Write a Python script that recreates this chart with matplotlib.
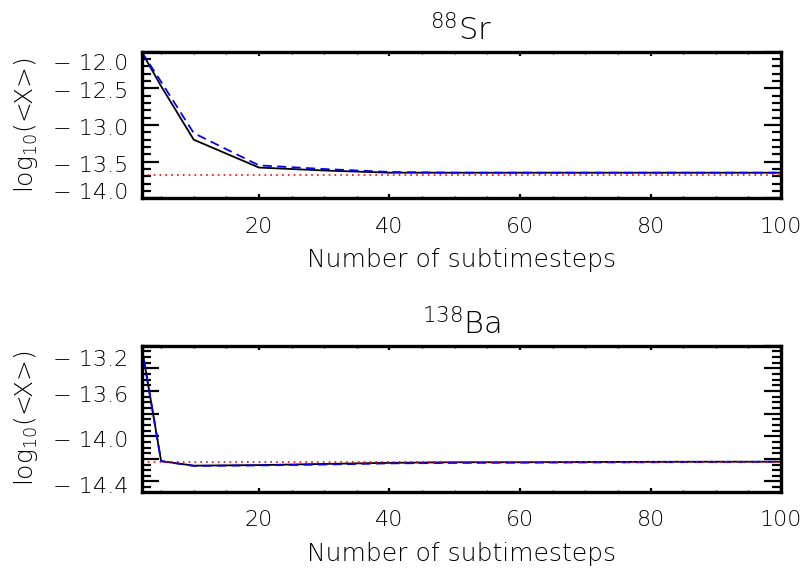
import matplotlib
matplotlib.use("Agg")
import matplotlib.pyplot as plt
from matplotlib.ticker import MultipleLocator, FixedLocator, FixedFormatter
from matplotlib.transforms import ScaledTranslation

# x values (number of subtimesteps)
steps = [2, 5, 10, 20, 30, 40, 50, 60, 70, 80, 90, 100]

# 88Sr
sr_solid = [-12.0, -12.47, -13.20, -13.58, -13.62, -13.65, -13.65, -13.65, -13.65, -13.65, -13.65, -13.65]
sr_dash = [-12.0, -12.41, -13.11, -13.55, -13.60, -13.64, -13.65, -13.65, -13.65, -13.65, -13.65, -13.65]
sr_ref = -13.68

# 138Ba
ba_solid = [-13.2, -14.22, -14.26, -14.255, -14.245, -14.235, -14.23, -14.23, -14.228, -14.226, -14.225, -14.225]
ba_dash = [-13.2, -14.22, -14.262, -14.258, -14.25, -14.24, -14.236, -14.234, -14.232, -14.23, -14.228, -14.225]
ba_ref = -14.225

sr_ticks = [-12.0, -12.5, -13.0, -13.5, -14.0]
sr_labels = ['\u2212 12.0', '\u2212 12.5', '\u2212 13.0', '\u2212 13.5', '\u2212 14.0']
ba_ticks = [-13.2, -13.4, -13.6, -13.8, -14.0, -14.2, -14.4]
ba_labels = ['\u2212 13.2', '', '\u2212 13.6', '', '\u2212 14.0', '', '\u2212 14.4']

plt.rcParams['font.family'] = ['DejaVu Sans']
plt.rcParams['font.weight'] = 'light'
plt.rcParams['axes.labelweight'] = 'light'
plt.rcParams['axes.titleweight'] = 'light'
plt.rcParams['mathtext.fontset'] = 'custom'
plt.rcParams['mathtext.rm'] = 'DejaVu Sans:light'
plt.rcParams['mathtext.it'] = 'DejaVu Sans:light'
plt.rcParams['mathtext.default'] = 'rm'
TICK_FS = 16
LAB_FS = 18

fig = plt.figure(figsize=(8.06, 5.70), dpi=100)
ax1 = fig.add_axes([0.1756, 0.652, 0.7934, 0.2573])
ax2 = fig.add_axes([0.1756, 0.1374, 0.7934, 0.2561])


def style_axis(ax, ylim, major, minor, labels, shifts):
    ax.set_xlim(2, 100)
    ax.set_ylim(*ylim)
    ax.xaxis.set_major_locator(FixedLocator([20, 40, 60, 80, 100]))
    ax.xaxis.set_minor_locator(MultipleLocator(5))
    ax.yaxis.set_major_locator(FixedLocator(major))
    ax.yaxis.set_major_formatter(FixedFormatter(labels))
    ax.yaxis.set_minor_locator(MultipleLocator(minor))
    ax.tick_params(axis='y', which='major', direction='in', length=12, width=1.6,
                   left=True, right=True, labelsize=TICK_FS, pad=9.5)
    ax.tick_params(axis='y', which='minor', direction='in', length=6.5, width=1.6,
                   left=True, right=True)
    ax.tick_params(axis='x', which='major', direction='in', length=3, width=1.6,
                   top=True, bottom=True, labelsize=TICK_FS, pad=13.5)
    ax.tick_params(axis='x', which='minor', direction='in', length=1.5, width=1.0,
                   top=True, bottom=True)
    for sp in ax.spines.values():
        sp.set_linewidth(2.4)
    ax.set_xlabel('Number of subtimesteps', fontsize=LAB_FS, labelpad=8)
    ax.set_ylabel(r'log$_{10}$(<X>)', fontsize=LAB_FS, labelpad=9)
    # IDL pulls the end labels inside the axis range
    ticks = ax.yaxis.get_major_ticks()
    for tk, dy in zip(ticks, shifts):
        off = ScaledTranslation(0, -dy / 100, fig.dpi_scale_trans)
        tk.label1.set_transform(tk.label1.get_transform() + off)


ax1.plot(steps, sr_solid, color='black', lw=1.3)
ax1.plot(steps, sr_dash, color='blue', lw=1.3, ls=(0, (5, 3)))
ax1.axhline(sr_ref, color='red', lw=1.2, ls=(0, (1, 2.5)))
style_axis(ax1, (-14.0, -12.0), sr_ticks, 0.1, sr_labels, [10, 2, 2, 2, -7])
ax1.set_title(r'$^{88}$Sr', fontsize=22, pad=8)

ax2.plot(steps, ba_solid, color='black', lw=1.3)
ax2.plot(steps, ba_dash, color='blue', lw=1.3, ls=(0, (5, 3)))
ax2.axhline(ba_ref, color='red', lw=1.2, ls=(0, (1, 2.5)))
style_axis(ax2, (-14.49, -13.2), ba_ticks, 0.05, ba_labels, [12, 0, 3, 0, 3, 0, 4])
ax2.set_title(r'$^{138}$Ba', fontsize=22, pad=8)

fig.savefig('out.png', dpi=100)
